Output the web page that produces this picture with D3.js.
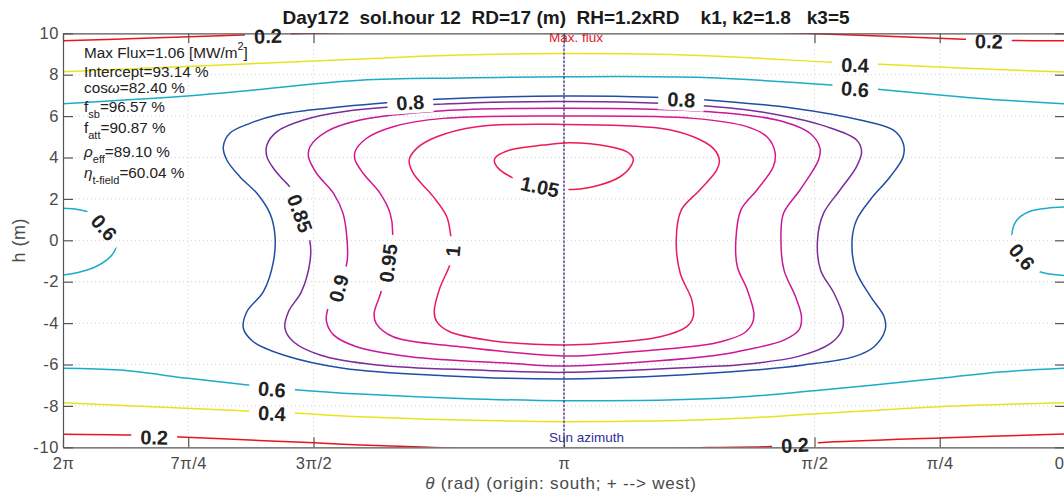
<!DOCTYPE html>
<html>
<head>
<meta charset="utf-8">
<script src="https://cdn.jsdelivr.net/npm/d3@7"></script>
<style>
  body { margin: 0; background: #fff; }
  svg text { font-family: "Liberation Sans", Arial, Helvetica, sans-serif; }
</style>
</head>
<body>
<svg id="chart" width="1064" height="500"></svg>
<script>
// theta is kept in units of pi (2 -> 2pi), h in metres

const xTicks = [2, 1.75, 1.5, 1, 0.5, 0.25, 0];
const xTickLabels = ["2π", "7π/4", "3π/2", "π", "π/2", "π/4", "0"];
const yTicks = [-10, -8, -6, -4, -2, 0, 2, 4, 6, 8, 10];

const levels = [0.2, 0.4, 0.6, 0.8, 0.85, 0.9, 0.95, 1, 1.05];
const levelColors = ["#e8151f", "#e8e41a", "#1bacc9", "#1f4ea3", "#7b2c9a", "#c8179b", "#d9158c", "#ea1a62", "#ec1b50"];

// contour lines: [theta/pi, h]
const c02Top = [[2.000,9.64],[1.826,9.77],[1.641,9.92],[1.487,10.01],[1.287,10.21],[1.000,10.30],[0.729,10.21],[0.557,10.04],[0.369,9.87],[0.202,9.71],[0.102,9.65],[0.000,9.64]];
const c02Bot = [[2.000,-9.37],[1.866,-9.41],[1.766,-9.50],[1.627,-9.65],[1.499,-9.78],[1.407,-9.89],[1.283,-9.99],[1.000,-10.23],[0.715,-10.01],[0.587,-9.96],[0.491,-9.78],[0.250,-9.55],[0.000,-9.36]];
const c04Top = [[2.000,8.14],[1.727,8.42],[1.407,8.76],[1.208,8.95],[1.000,9.02],[0.729,8.93],[0.467,8.60],[0.369,8.50],[0.210,8.32],[0.000,8.13]];
const c04Bot = [[2.000,-7.85],[1.766,-8.10],[1.631,-8.25],[1.531,-8.36],[1.407,-8.52],[1.208,-8.68],[1.000,-8.76],[0.689,-8.65],[0.501,-8.39],[0.250,-8.04],[0.000,-7.85]];
const c06Top = [[2.000,6.60],[1.727,7.02],[1.407,7.73],[1.208,7.84],[1.000,7.90],[0.721,7.86],[0.467,7.50],[0.369,7.29],[0.250,7.02],[0.130,6.78],[0.000,6.60]];
const c06Bot = [[2.000,-6.18],[1.886,-6.27],[1.750,-6.67],[1.631,-6.99],[1.531,-7.23],[1.407,-7.43],[1.208,-7.64],[1.000,-7.75],[0.689,-7.63],[0.501,-7.27],[0.250,-6.67],[0.130,-6.36],[0.000,-6.18]];
const c06Left = [[2.000,1.55],[1.976,1.51],[1.950,1.38],[1.926,1.17],[1.906,0.74],[1.894,0.01],[1.896,-0.47],[1.910,-0.90],[1.936,-1.29],[1.966,-1.53],[2.000,-1.68]];
const c06Right = [[0.000,1.61],[0.036,1.55],[0.072,1.38],[0.096,0.98],[0.106,0.26],[0.100,-0.37],[0.080,-1.10],[0.050,-1.52],[0.000,-1.71]];
const c08 = [[1.000,6.97],[1.254,6.81],[1.355,6.65],[1.507,6.29],[1.573,6.05],[1.627,5.65],[1.667,5.17],[1.680,4.52],[1.673,3.88],[1.647,3.07],[1.613,2.27],[1.587,1.30],[1.577,0.26],[1.580,-1.03],[1.600,-2.48],[1.633,-3.45],[1.640,-4.25],[1.620,-4.90],[1.560,-5.54],[1.441,-6.18],[1.241,-6.54],[1.000,-6.70],[0.808,-6.56],[0.621,-6.27],[0.521,-6.02],[0.421,-5.62],[0.381,-5.14],[0.359,-4.33],[0.361,-3.69],[0.388,-2.72],[0.418,-1.43],[0.425,0.01],[0.416,0.98],[0.389,1.95],[0.349,3.07],[0.323,4.04],[0.323,4.69],[0.343,5.33],[0.409,5.81],[0.542,6.38],[0.715,6.78],[0.822,6.91]];
const c085 = [[1.000,6.70],[1.241,6.58],[1.441,6.21],[1.520,5.81],[1.573,5.25],[1.593,4.60],[1.593,4.04],[1.580,3.48],[1.560,2.91],[1.548,2.59],[1.527,1.30],[1.507,-0.07],[1.507,-1.03],[1.524,-2.48],[1.550,-3.45],[1.557,-4.25],[1.540,-4.90],[1.487,-5.54],[1.374,-6.02],[1.174,-6.27],[1.000,-6.38],[0.721,-6.11],[0.654,-6.02],[0.534,-5.62],[0.468,-4.98],[0.445,-4.33],[0.443,-3.69],[0.461,-2.56],[0.488,-1.43],[0.494,0.01],[0.482,1.30],[0.449,2.43],[0.416,3.56],[0.406,4.28],[0.416,4.85],[0.476,5.49],[0.609,6.21],[0.742,6.54]];
const c09 = [[1.000,6.38],[1.241,6.26],[1.407,5.81],[1.474,5.25],[1.507,4.52],[1.510,4.04],[1.494,3.24],[1.460,2.27],[1.441,1.30],[1.433,0.01],[1.433,-1.03],[1.450,-2.32],[1.472,-3.37],[1.474,-3.93],[1.460,-4.57],[1.414,-5.14],[1.307,-5.62],[1.108,-5.94],[1.000,-6.07],[0.721,-5.62],[0.654,-5.38],[0.561,-4.82],[0.531,-4.33],[0.526,-3.69],[0.538,-2.72],[0.561,-1.43],[0.567,0.01],[0.562,1.30],[0.529,2.43],[0.492,3.88],[0.489,4.44],[0.509,5.17],[0.575,5.81],[0.709,6.21]];
const c095 = [[1.000,6.00],[1.241,5.89],[1.341,5.49],[1.394,4.93],[1.417,4.28],[1.417,3.88],[1.401,3.24],[1.367,2.27],[1.347,1.30],[1.342,0.34],[1.351,-1.10],[1.366,-2.56],[1.379,-3.53],[1.375,-4.01],[1.341,-4.66],[1.208,-5.14],[1.000,-5.59],[0.868,-5.40],[0.721,-5.06],[0.687,-4.90],[0.641,-4.49],[0.624,-4.01],[0.621,-3.53],[0.634,-2.40],[0.654,-1.28],[0.657,0.01],[0.647,1.46],[0.615,2.43],[0.582,3.56],[0.579,4.28],[0.595,5.00],[0.635,5.49],[0.742,5.89]];
const c100 = [[1.000,5.60],[1.174,5.49],[1.254,5.00],[1.294,4.44],[1.309,3.88],[1.301,3.24],[1.261,2.11],[1.234,1.14],[1.226,0.21],[1.222,-0.52],[1.228,-1.19],[1.248,-2.32],[1.259,-3.45],[1.254,-3.93],[1.228,-4.42],[1.141,-4.86],[1.000,-5.06],[0.928,-4.99],[0.808,-4.66],[0.755,-4.17],[0.742,-3.69],[0.745,-2.88],[0.768,-1.59],[0.776,0.01],[0.766,1.46],[0.729,2.43],[0.695,3.40],[0.690,3.88],[0.702,4.44],[0.742,5.00],[0.808,5.41]];
const c105 = [[0.996,2.45],[0.942,2.59],[0.888,3.07],[0.865,3.64],[0.862,3.96],[0.875,4.28],[0.908,4.52],[0.988,4.71],[1.041,4.60],[1.108,4.36],[1.138,3.96],[1.138,3.72],[1.128,3.40],[1.104,3.04],[1.048,2.59]];

// [level, points, closed]
const contours = [
    [0.2, c02Top, false], [0.2, c02Bot, false],
    [0.4, c04Top, false], [0.4, c04Bot, false],
    [0.6, c06Top, false], [0.6, c06Bot, false], [0.6, c06Left, false], [0.6, c06Right, false],
    [0.8, c08, true], [0.85, c085, true], [0.9, c09, true], [0.95, c095, true],
    [1, c100, true], [1.05, c105, true]
];

// inline contour labels: [text, theta/pi, h, angle]
const contourLabels = [
    ["0.2", 1.591, 9.87, -2], ["0.2", 0.152, 9.62, 1],
    ["0.4", 0.419, 8.47, 2], ["0.6", 0.419, 7.31, 5],
    ["0.2", 1.818, -9.52, 1], ["0.6", 1.583, -7.20, 5], ["0.4", 1.583, -8.36, 3], ["0.2", 0.539, -9.89, -3],
    ["0.6", 1.918, 0.62, 48], ["0.6", 0.086, -0.79, 50],
    ["0.8", 1.307, 6.66, -4], ["0.8", 0.766, 6.80, 3],
    ["0.85", 1.527, 1.30, 70], ["0.9", 1.450, -2.32, -75], ["0.95", 1.351, -1.10, -83],
    ["1", 1.222, -0.52, -85], ["1.05", 1.048, 2.59, 12]
];

const titleText = "Day172  sol.hour 12  RD=17 (m)  RH=1.2xRD    k1, k2=1.8   k3=5";
const sunAzimuth = 1;   // theta/pi of the marker line

const svg = d3.select("#chart");
const x = d3.scaleLinear().domain([2, 0]).range([63, 1065]);
const y = d3.scaleLinear().domain([-10, 10]).range([447.3, 33.3]);
const color = d3.scaleOrdinal(levels, levelColors);

const defs = svg.append("defs");
defs.append("clipPath").attr("id", "plotClip")
    .append("rect")
    .attr("x", x(2)).attr("y", y(10))
    .attr("width", x(0) - x(2)).attr("height", y(-10) - y(10));

// grid
let grid = svg.append("g")
    .attr("stroke", "#d2d2d2")
    .attr("stroke-width", 1)
    .attr("stroke-dasharray", "1,3");
xTicks.filter(d => d > 0 && d < 2).forEach(d => {
    grid.append("line").attr("x1", x(d)).attr("x2", x(d)).attr("y1", y(10)).attr("y2", y(-10));
});
yTicks.filter(d => d > -10 && d < 10).forEach(d => {
    grid.append("line").attr("x1", x(2)).attr("x2", x(0)).attr("y1", y(d)).attr("y2", y(d));
});

// contour lines go in this group, labels are measured first to cut the gaps
let contourG = svg.append("g")
    .attr("clip-path", "url(#plotClip)")
    .append("g")
    .attr("mask", "url(#labelGaps)");

let labelG = svg.append("g");
let mask = defs.append("mask").attr("id", "labelGaps")
    .attr("maskUnits", "userSpaceOnUse")
    .attr("x", 0).attr("y", 0).attr("width", 1064).attr("height", 500);
mask.append("rect").attr("width", 1064).attr("height", 500).attr("fill", "white");

contourLabels.forEach(l => {
    let px = x(l[1]), py = y(l[2]);
    let t = labelG.append("text")
        .attr("transform", `translate(${px},${py}) rotate(${l[3]})`)
        .attr("text-anchor", "middle")
        .attr("dy", "0.36em")
        .attr("font-size", 20)
        .attr("font-weight", "bold")
        .attr("fill", "#222")
        .text(l[0]);
    let w = t.node().getComputedTextLength() + 18;
    mask.append("rect")
        .attr("transform", `translate(${px},${py}) rotate(${l[3]})`)
        .attr("x", -w / 2).attr("y", -11)
        .attr("width", w).attr("height", 22)
        .attr("fill", "black");
});

let lineOpen = d3.line().x(d => x(d[0])).y(d => y(d[1])).curve(d3.curveCatmullRom.alpha(0.5));
let lineClosed = d3.line().x(d => x(d[0])).y(d => y(d[1])).curve(d3.curveCatmullRomClosed.alpha(0.5));

contours.forEach(c => {
    contourG.append("path")
        .attr("d", c[2] ? lineClosed(c[1]) : lineOpen(c[1]))
        .attr("fill", "none")
        .attr("stroke", color(c[0]))
        .attr("stroke-width", 1.5);
});

// sun azimuth / max flux marker
svg.append("line")
    .attr("x1", x(sunAzimuth)).attr("x2", x(sunAzimuth))
    .attr("y1", y(10)).attr("y2", y(-10))
    .attr("stroke", "#e8151f").attr("stroke-width", 1)
    .attr("stroke-dasharray", "1,3");
svg.append("line")
    .attr("x1", x(sunAzimuth)).attr("x2", x(sunAzimuth))
    .attr("y1", y(10)).attr("y2", y(-10))
    .attr("stroke", "#2b2b9c").attr("stroke-width", 1)
    .attr("stroke-dasharray", "3,1").attr("stroke-dashoffset", 1);

svg.append("text")
    .attr("x", x(sunAzimuth) - 15).attr("y", y(10) + 9)
    .attr("font-size", 13.5).attr("fill", "#e8151f")
    .text("Max. flux");
svg.append("text")
    .attr("x", x(sunAzimuth) - 15).attr("y", y(-10) - 5)
    .attr("font-size", 13.5).attr("fill", "#2e2e9a")
    .text("Sun azimuth");

// axes (ticks pointing inward, box on)
function styleAxis(g) {
    g.select(".domain").attr("stroke", "#555").attr("stroke-width", 1.2);
    g.selectAll(".tick line").attr("stroke", "#555").attr("stroke-width", 1.2);
    g.selectAll(".tick text").attr("fill", "#4a4a4a").attr("font-size", 16.5)
        .attr("letter-spacing", 0.6)
        .attr("font-family", "'Liberation Sans', Arial, sans-serif");
}

let xAxisG = svg.append("g")
    .attr("transform", `translate(0,${y(-10)})`)
    .call(d3.axisBottom(x).tickValues(xTicks).tickFormat((d, i) => xTickLabels[i])
        .tickSizeInner(-10).tickSizeOuter(0).tickPadding(10))
    .call(styleAxis);
// last label sits on the window edge; keep it inside
xAxisG.selectAll(".tick text").filter(d => d === 0).attr("text-anchor", "end").attr("dx", -1);

svg.append("g")
    .attr("transform", `translate(0,${y(10)})`)
    .call(d3.axisTop(x).tickValues(xTicks).tickFormat("")
        .tickSizeInner(-10).tickSizeOuter(0))
    .call(styleAxis);
svg.append("g")
    .attr("transform", `translate(${x(2)},0)`)
    .call(d3.axisLeft(y).tickValues(yTicks).tickFormat(d => String(d))
        .tickSizeInner(-10).tickSizeOuter(0).tickPadding(4))
    .call(styleAxis);
svg.append("g")
    .attr("transform", `translate(${x(0)},0)`)
    .call(d3.axisRight(y).tickValues(yTicks).tickFormat("")
        .tickSizeInner(-10).tickSizeOuter(0))
    .call(styleAxis);

labelG.raise();

// axis titles
svg.append("text")
    .attr("x", x(1) - 3).attr("y", 489)
    .attr("text-anchor", "middle")
    .attr("font-size", 17).attr("letter-spacing", 0.8).attr("fill", "#4a4a4a")
    .style("white-space", "pre")
    .call(t => {
        t.append("tspan").attr("font-style", "italic").text("θ");
        t.append("tspan").text(" (rad) (origin: south; + --> west)");
    });
svg.append("text")
    .attr("transform", `translate(25,${y(0)}) rotate(-90)`)
    .attr("text-anchor", "middle")
    .attr("font-size", 18).attr("letter-spacing", 0.5).attr("fill", "#4a4a4a")
    .text("h (m)");

svg.append("text")
    .attr("x", 566).attr("y", 24)
    .attr("text-anchor", "middle")
    .attr("font-size", 19).attr("font-weight", "bold").attr("fill", "#1a1a1a")
    .style("white-space", "pre")
    .text(titleText);

// annotation block
let note = svg.append("g").attr("fill", "#222").attr("font-size", 15.3);
function noteLine(yy, parts) {
    let t = note.append("text").attr("x", 84).attr("y", yy).style("white-space", "pre");
    parts.forEach(p => {
        let s = t.append("tspan").text(p.s);
        if (p.sub) s.attr("font-size", 11).attr("dy", 6);
        if (p.sup) s.attr("font-size", 11).attr("dy", -8);
        if (p.back) s.attr("dy", p.back);
        if (p.it) s.attr("font-style", "italic");
    });
}
noteLine(58, [{s: "Max Flux=1.06 [MW/m"}, {s: "2", sup: true}, {s: "]", back: 8}]);
noteLine(76.5, [{s: "Intercept=93.14 %"}]);
noteLine(92.5, [{s: "cos"}, {s: "ω", it: true}, {s: "=82.40 %"}]);
noteLine(111.5, [{s: "f"}, {s: "sb", sub: true}, {s: "=96.57 %", back: -6}]);
noteLine(132.5, [{s: "f"}, {s: "att", sub: true}, {s: "=90.87 %", back: -6}]);
noteLine(156.5, [{s: "ρ", it: true}, {s: "eff", sub: true}, {s: "=89.10 %", back: -6}]);
noteLine(178, [{s: "η", it: true}, {s: "t-field", sub: true}, {s: "=60.04 %", back: -6}]);
</script>
</body>
</html>
